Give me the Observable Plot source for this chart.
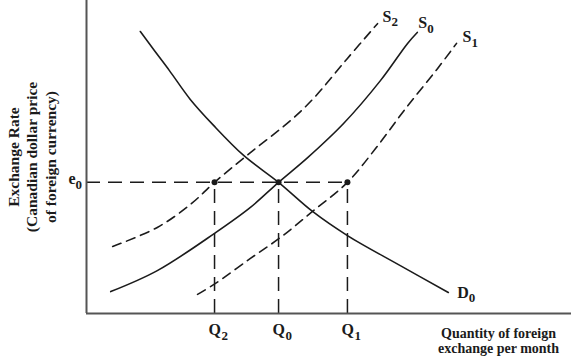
<!DOCTYPE html>
<html><head><meta charset="utf-8">
<script src="https://cdn.jsdelivr.net/npm/d3@7"></script>
<script src="https://cdn.jsdelivr.net/npm/@observablehq/plot@0.6"></script>
<style>body{margin:0;background:#fff}</style>
</head><body><div id="chart"></div>
<script>
// Curves: [quantity, exchange rate] in arbitrary units (0–100)
const demandD0 = [[11.1,90.1],[13.8,84.4],[17.1,77.6],[21.4,68.4],[26.2,60.1],[32.4,50.5],[39.6,41.9],[46.6,32.6],[53.8,24.9],[64.7,15.3],[74.6,6.7]];
const supplyS0 = [[5.0,7.0],[14.6,13.7],[26.4,25.6],[33.8,33.9],[39.6,41.9],[45.6,49.8],[53.0,60.7],[60.6,74.4],[66.2,86.3],[68.2,89.8]];
const supplyS2 = [[5.4,21.4],[14.6,27.5],[21.4,34.8],[26.4,41.9],[33.8,51.4],[42.1,61.7],[46.8,68.7],[53.8,81.5],[60.0,92.6]];
const supplyS1 = [[22.9,6.1],[26.6,9.6],[33.8,17.6],[40.0,24.3],[46.6,32.6],[53.8,41.9],[59.6,52.7],[65.8,65.5],[72.4,78.3],[76.3,86.3]];

const quantities = [26.4, 39.6, 53.8];
const quantityNames = ["Q", "Q", "Q"];
const quantitySubs = ["2", "0", "1"];
const e0 = 41.9;
const priceName = "e", priceSub = "0";

const curveNames = ["S", "S", "S", "D"];
const curveSubs = ["2", "0", "1", "0"];

const yTitle = "Exchange Rate\n(Canadian dollar price\nof foreign currency)";
const xTitle = "Quantity of foreign\nexchange per month";

const FONT = '"Liberation Serif", "Times New Roman", serif';
const ink = "#1b1b1b";
const axisColor = "#555";
const pts = a => a.map(([x, y]) => ({x, y}));
const last = a => ({x: a[a.length - 1][0], y: a[a.length - 1][1]});

function subText(row, letter, sub, o) {
  return [
    Plot.text([row], {x: "x", y: "y", text: () => letter, dx: o.dx, dy: o.dy, textAnchor: "start", lineAnchor: "bottom", fontSize: o.fs ?? 16, fontWeight: "bold", fill: ink}),
    Plot.text([row], {x: "x", y: "y", text: () => sub, dx: o.dx + o.w, dy: o.dy + 4.5, textAnchor: "start", lineAnchor: "bottom", fontSize: 13, fontWeight: "bold", fill: ink})
  ];
}

const qRows = quantities.map((q, i) => ({x: q, y: 0, name: quantityNames[i], sub: quantitySubs[i]}));
const eqRows = quantities.map(q => ({x: q, y: e0}));

const curves = [supplyS2, supplyS0, supplyS1, demandD0];
const labelOffsets = [{dx: 5, dy: -2, w: 9}, {dx: 1, dy: -4, w: 9}, {dx: 6, dy: -1, w: 9}, {dx: 9, dy: 5, w: 11.5}];

const chart = Plot.plot({
  width: 571, height: 359,
  marginLeft: 86, marginRight: 0, marginTop: 0, marginBottom: 46,
  x: {domain: [0, 100], axis: null},
  y: {domain: [0, 100], axis: null},
  style: {fontFamily: FONT, background: "#fff", color: ink},
  marks: [
    // dashed guides
    Plot.ruleY([e0], {x1: 0, x2: quantities[2], stroke: ink, strokeWidth: 1.5, strokeDasharray: "14,8"}),
    Plot.ruleX(quantities, {y1: 0, y2: e0, stroke: ink, strokeWidth: 1.5, strokeDasharray: "14,8"}),
    // curves
    Plot.line(pts(demandD0), {x: "x", y: "y", curve: "catmull-rom", stroke: ink, strokeWidth: 1.6}),
    Plot.line(pts(supplyS0), {x: "x", y: "y", curve: "catmull-rom", stroke: ink, strokeWidth: 1.6}),
    Plot.line(pts(supplyS2), {x: "x", y: "y", curve: "catmull-rom", stroke: ink, strokeWidth: 1.6, strokeDasharray: "9,6"}),
    Plot.line(pts(supplyS1), {x: "x", y: "y", curve: "catmull-rom", stroke: ink, strokeWidth: 1.6, strokeDasharray: "9,6"}),
    // axes
    Plot.ruleX([0], {stroke: axisColor, strokeWidth: 2}),
    Plot.ruleY([0], {stroke: axisColor, strokeWidth: 2}),
    // equilibrium dots
    Plot.dot(eqRows, {x: "x", y: "y", r: 3, fill: ink, stroke: "none"}),
    // curve labels
    ...curves.flatMap((c, i) => subText(last(c), curveNames[i], curveSubs[i], labelOffsets[i])),
    // quantity tick labels
    Plot.text(qRows, {x: "x", y: "y", text: "name", dx: -6, dy: 21, textAnchor: "start", lineAnchor: "bottom", fontSize: 16, fontWeight: "bold", fill: ink}),
    Plot.text(qRows, {x: "x", y: "y", text: "sub", dx: 7, dy: 26, textAnchor: "start", lineAnchor: "bottom", fontSize: 13, fontWeight: "bold", fill: ink}),
    // price label
    ...subText({x: 0, y: e0}, priceName, priceSub, {dx: -18, dy: 2, w: 7, fs: 16}),
    // axis titles
    Plot.text([yTitle], {text: d => d, frameAnchor: "left", rotate: -90, dx: -55, textAnchor: "middle", lineAnchor: "middle", lineHeight: 1.2, fontSize: 15.5, fontWeight: "bold", fill: ink}),
    Plot.text([xTitle], {text: d => d, frameAnchor: "bottom-right", dx: -73, dy: 27, textAnchor: "middle", lineAnchor: "middle", lineHeight: 1.1, fontSize: 14, fontWeight: "bold", fill: ink})
  ]
});
document.getElementById("chart").appendChild(chart);
</script>
</body></html>
